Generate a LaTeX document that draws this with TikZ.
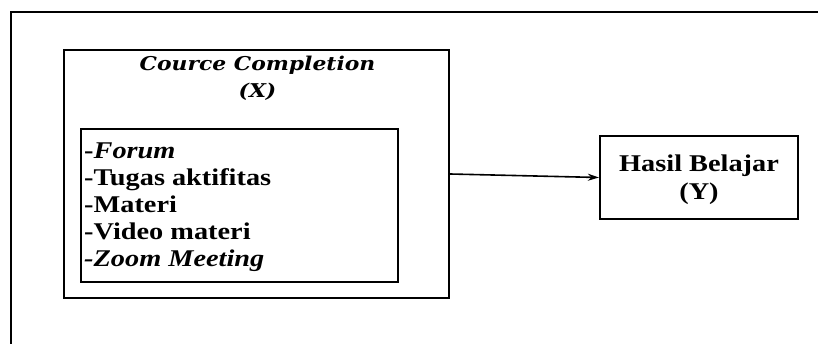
\documentclass[tikz,border=0pt]{standalone}
\usepackage{fontspec}
\setmainfont{Liberation Serif}
\newfontfamily\listfont[FakeStretch=1.18]{Liberation Serif}
\newfontfamily\titlefont[FakeStretch=1.15]{DejaVu Serif}
\usetikzlibrary{arrows.meta}
\tikzset{
  frame/.style={draw=black, line width=2pt},
  boxX/.style={draw=black, line width=2.2pt, minimum width=385pt, minimum height=248pt, inner sep=0pt},
  boxlist/.style={draw=black, line width=2pt, minimum width=317pt, minimum height=153pt, inner sep=0pt},
  boxY/.style={draw=black, line width=2.2pt, minimum width=198pt, minimum height=83pt, inner sep=0pt},
  titletext/.style={font=\titlefont\bfseries\itshape\fontsize{19}{27}\selectfont, align=center, inner sep=0pt},
  listtext/.style={font=\listfont\bfseries\fontsize{24}{27.2}\selectfont, align=left, inner sep=0pt},
  ytext/.style={font=\listfont\bfseries\fontsize{24}{28}\selectfont, align=center, inner sep=0pt},
  conn/.style={line width=1.6pt, -{Stealth[length=11pt,width=7pt]}}
}
\begin{document}
\begin{tikzpicture}[x=1pt,y=-1pt]
\useasboundingbox (0,0) rectangle (818,344);
\draw[frame] (11,12) rectangle (840,370);
\node[boxX] (X) at (256.5,174) {};
\node[titletext, anchor=base] (title) at (257.5,98) {Cource Completion\\(X)};
\node[boxlist] (list) at (239.5,205.5) {};
\node[listtext, anchor=base west] (items) at (84,267) {-\textit{Forum}\\-Tugas aktifitas\\-Materi\\-Video materi\\\textit{-Zoom Meeting}};
\node[boxY] (Y) at (699,177.5) {};
\node[ytext, anchor=base] (ytitle) at (699,200) {Hasil Belajar\\(Y)};
\draw[conn] (X.east) -- (Y.west);
\end{tikzpicture}
\end{document}
